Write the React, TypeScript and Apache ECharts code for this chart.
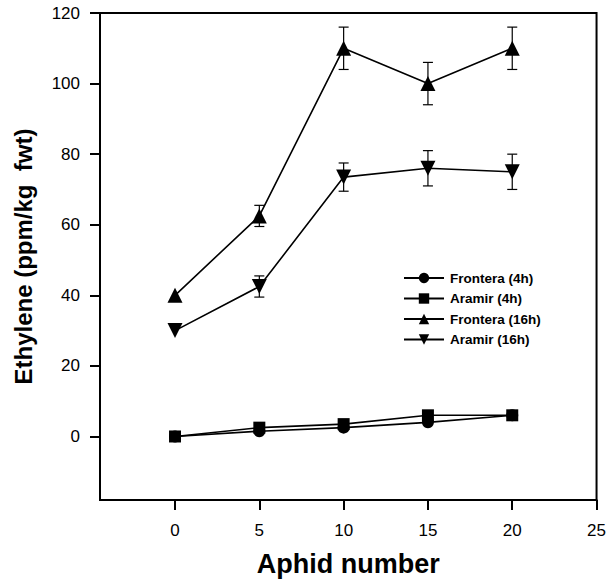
import React, { useEffect, useRef } from "react";
import * as echarts from "echarts";

const aphids = [0, 5, 10, 15, 20];
const fronteraH4 = [0, 1.5, 2.5, 4, 6];
const aramirH4 = [0, 2.5, 3.5, 6, 6];
const fronteraH16 = [40, 62.5, 110, 100, 110];
const fronteraH16Err = [0, 3, 6, 6, 6];
const aramirH16 = [30, 42.5, 73.5, 76, 75];
const aramirH16Err = [0, 3, 4, 5, 5];
const xTicks = [0, 5, 10, 15, 20, 25];
const yTicks = [0, 20, 40, 60, 80, 100, 120];

const font = "'Liberation Sans', Arial, Helvetica, sans-serif";

function pts(ys: number[]) {
  return aphids.map((x, i) => [x, ys[i]]);
}
function errs(ys: number[], es: number[]) {
  return aphids
    .map((x, i) => [x, ys[i] - es[i], ys[i] + es[i]])
    .filter((d, i) => es[i] > 0);
}

const errorSeries = (data: number[][]) => ({
  type: "custom",
  silent: true,
  z: 1,
  data,
  encode: { x: 0, y: [1, 2] },
  renderItem: (params: any, api: any) => {
    const x = api.value(0);
    const lo = api.coord([x, api.value(1)]);
    const hi = api.coord([x, api.value(2)]);
    const w = 5;
    const style = { stroke: "#000", lineWidth: 1.2 };
    return {
      type: "group",
      children: [
        { type: "line", shape: { x1: lo[0], y1: lo[1], x2: hi[0], y2: hi[1] }, style },
        { type: "line", shape: { x1: lo[0] - w, y1: lo[1], x2: lo[0] + w, y2: lo[1] }, style },
        { type: "line", shape: { x1: hi[0] - w, y1: hi[1], x2: hi[0] + w, y2: hi[1] }, style },
      ],
    };
  },
});

const lineSeries = (name: string, ys: number[], symbol: string, size: number) => ({
  name,
  type: "line",
  data: pts(ys),
  symbol,
  symbolSize: size,
  z: 3,
  itemStyle: { color: "#000" },
  lineStyle: { color: "#000", width: 1.6 },
});

export default function App() {
  const ref = useRef<HTMLDivElement>(null);
  useEffect(() => {
    const chart = echarts.init(ref.current!, null, { renderer: "svg" });
    chart.setOption({
      animation: false,
      backgroundColor: "#fff",
      grid: {
        left: 100,
        right: 12,
        top: 13,
        bottom: 85,
        show: true,
        borderColor: "#000",
        borderWidth: 2,
      },
      legend: {
        orient: "vertical",
        left: 403,
        top: 271,
        padding: 0,
        itemWidth: 40,
        itemHeight: 13,
        itemGap: 6.5,
        textStyle: { fontFamily: font, fontWeight: "bold", fontSize: 13.5, color: "#000", padding: [0, 0, 0, 1] },
        data: ["Frontera (4h)", "Aramir (4h)", "Frontera (16h)", "Aramir (16h)"],
      },
      xAxis: {
        type: "value",
        min: -4.45,
        max: 25,
        name: "Aphid number",
        nameLocation: "middle",
        nameGap: 50,
        nameTextStyle: { fontFamily: font, fontWeight: "bold", fontSize: 27, color: "#000" },
        axisLine: { onZero: false, lineStyle: { color: "#000", width: 2 } },
        axisTick: { show: true, length: 10, inside: false, customValues: xTicks, lineStyle: { color: "#000", width: 2 } },
        axisLabel: { customValues: xTicks, margin: 22, fontFamily: font, fontSize: 17, color: "#000" },
        splitLine: { show: false },
      },
      yAxis: {
        type: "value",
        min: -18,
        max: 120,
        name: "Ethylene (ppm/kg  fwt)",
        nameLocation: "middle",
        nameGap: 65,
        nameTextStyle: { fontFamily: font, fontWeight: "bold", fontSize: 24, color: "#000" },
        axisLine: { onZero: false, lineStyle: { color: "#000", width: 2 } },
        axisTick: { show: true, length: 10, inside: false, customValues: yTicks, lineStyle: { color: "#000", width: 2 } },
        axisLabel: { customValues: yTicks, margin: 20, fontFamily: font, fontSize: 17, color: "#000" },
        splitLine: { show: false },
      },
      series: [
        lineSeries("Frontera (4h)", fronteraH4, "circle", 12),
        lineSeries("Aramir (4h)", aramirH4, "rect", 12),
        lineSeries("Frontera (16h)", fronteraH16, "triangle", 15),
        lineSeries("Aramir (16h)", aramirH16, "path://M0,0 L10,0 L5,9 Z", 15),
        errorSeries(errs(fronteraH16, fronteraH16Err)),
        errorSeries(errs(aramirH16, aramirH16Err)),
      ],
    });
    return () => chart.dispose();
  }, []);
  return <div ref={ref} style={{ width: 609, height: 585, position: "absolute", left: 0, top: 0 }} />;
}
